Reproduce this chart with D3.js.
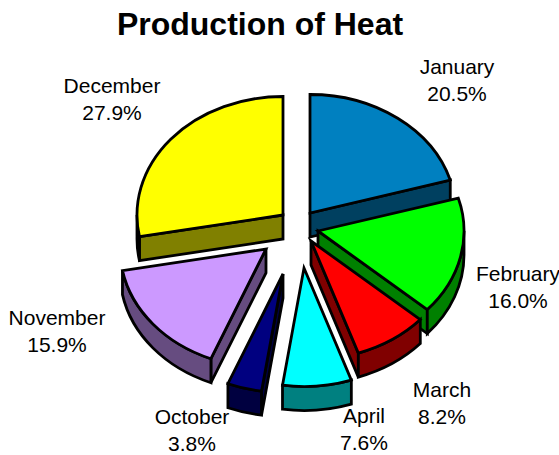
<!DOCTYPE html>
<html>
<head>
<meta charset="utf-8">
<style>
  html, body { margin: 0; padding: 0; background: #fff; }
  svg { display: block; }
  text { font-family: "Liberation Sans", Arial, sans-serif; fill: #000; }
</style>
<script src="https://cdn.jsdelivr.net/npm/d3@7"></script>
</head>
<body>
<div id="chart"></div>
<script>
const months = ["January", "February", "March", "April", "October", "November", "December"];
const shares = [20.5, 16.0, 8.2, 7.6, 3.8, 15.9, 27.9];

// layout and styling, per month
const topColors = ["#0080c0", "#00ff00", "#ff0000", "#00ffff", "#000080", "#cc99ff", "#ffff00"];
const sideColors = ["#004060", "#008000", "#800000", "#008080", "#000040", "#664c80", "#808000"];
const explode = [[13, -18], [21, 0], [14, 10], [7, 37], [-14, 43], [-31, 18], [-14, -16]];
const labelAt = [[457, 74], [518, 281], [442, 397], [364, 423], [192, 424], [57, 325], [112, 93]];
// back to front
const drawOrder = [6, 0, 1, 2, 5, 3, 4];

const width = 559, height = 455;
const cx = 297, cy = 231;
const rx = 146, ry = 118.5, depth = 24;

const svg = d3.select("#chart").append("svg")
  .attr("width", width)
  .attr("height", height);

svg.append("text")
  .attr("x", 260)
  .attr("y", 35)
  .attr("text-anchor", "middle")
  .style("font-size", "32px")
  .style("font-weight", "bold")
  .text("Production of Heat");

const slices = d3.pie().sort(null).value(d => d)(shares);

// point on the ellipse, angle clockwise from 12 o'clock
const pt = (a, z) => [rx * Math.sin(a), -ry * Math.cos(a) + z];
const arcTo = (a0, a1, z, sweep) => {
  const p = pt(a1, z);
  return "A" + rx + "," + ry + " 0 " + (Math.abs(a1 - a0) > Math.PI ? 1 : 0) + " " + sweep + " " + p[0] + "," + p[1];
};

function radialFace(a) {
  const p = pt(a, 0), q = pt(a, depth);
  return "M0,0L" + p[0] + "," + p[1] + "L" + q[0] + "," + q[1] + "L0," + depth + "Z";
}

drawOrder.forEach(i => {
  const s = slices[i];
  const g = svg.append("g")
    .attr("transform", "translate(" + (cx + explode[i][0]) + "," + (cy + explode[i][1]) + ")")
    .attr("stroke", "#000")
    .attr("stroke-width", 2.8)
    .attr("stroke-linejoin", "miter");

  // radial side faces, only the ones turned to the viewer
  if (s.endAngle > 0 && s.endAngle < Math.PI) {
    g.append("path").attr("d", radialFace(s.endAngle)).attr("fill", sideColors[i]);
  }
  if (s.startAngle > Math.PI && s.startAngle < 2 * Math.PI) {
    g.append("path").attr("d", radialFace(s.startAngle)).attr("fill", sideColors[i]);
  }

  // outer wall is visible on the front half of the ellipse
  const w0 = Math.max(s.startAngle, Math.PI / 2);
  const w1 = Math.min(s.endAngle, 3 * Math.PI / 2);
  if (w1 > w0) {
    const a = pt(w0, 0), b = pt(w1, depth);
    g.append("path")
      .attr("d", "M" + a + arcTo(w0, w1, 0, 1) + "L" + b + arcTo(w1, w0, depth, 0) + "Z")
      .attr("fill", sideColors[i]);
  }

  const start = pt(s.startAngle, 0);
  g.append("path")
    .attr("d", "M0,0L" + start + arcTo(s.startAngle, s.endAngle, 0, 1) + "Z")
    .attr("fill", topColors[i]);
});

const labels = svg.selectAll(".label")
  .data(months)
  .enter().append("text")
  .attr("class", "label")
  .attr("text-anchor", "middle")
  .style("font-size", "21px");

labels.append("tspan")
  .attr("x", (d, i) => labelAt[i][0])
  .attr("y", (d, i) => labelAt[i][1])
  .text(d => d);

labels.append("tspan")
  .attr("x", (d, i) => labelAt[i][0])
  .attr("y", (d, i) => labelAt[i][1] + 27)
  .text((d, i) => shares[i].toFixed(1) + "%");
</script>
</body>
</html>
